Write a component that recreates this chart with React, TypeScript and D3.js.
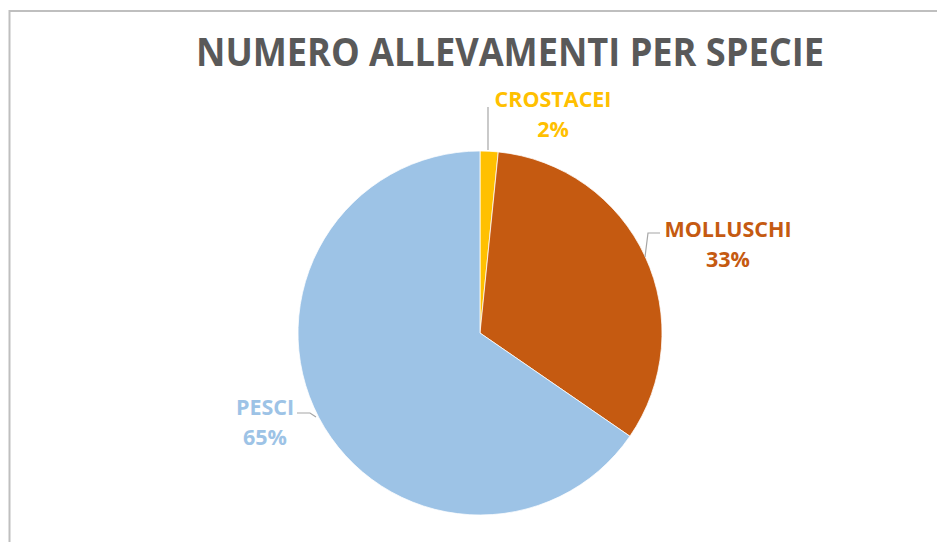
import React from 'react';
import * as d3 from 'd3';

// values (share of farms per species)
const categories = ['CROSTACEI', 'MOLLUSCHI', 'PESCI'];
const values = [1.6, 33.0, 65.4];
const percentLabels = ['2%', '33%', '65%'];
const colors = ['#FFC000', '#C55A11', '#9DC3E6'];

const W = 937;
const H = 542;
const cx = 480;
const cy = 333;
const radius = 182;

// label placement, relative to pie center (layout only)
const labelLayout = [
  { dx: 73, dy: -226, leader: [[8, -226], [8, -183]] },
  { dx: 248, dy: -96, leader: [[180, -100], [168, -100], [165, -76]] },
  { dx: -215, dy: 82, leader: [[-183, 80], [-170, 80], [-164, 84]] },
];

const font = '"Open Sans", "Liberation Sans", sans-serif';

export default function App() {
  const pie = d3
    .pie<number>()
    .sort(null)
    .value((d) => d)
    .startAngle(0)
    .endAngle(2 * Math.PI);
  const arcs = pie(values);
  const arc = d3.arc<d3.PieArcDatum<number>>().innerRadius(0).outerRadius(radius);

  return (
    <svg
      width={W}
      height={H}
      style={{ position: 'absolute', left: 0, top: 0, display: 'block', background: '#fff' }}
    >
      <rect x={9.5} y={11} width={W + 10} height={H + 10} fill="#fff" stroke="#BFBFBF" strokeWidth={2} />

      <text
        x={510}
        y={66}
        textAnchor="middle"
        fontFamily={font}
        fontWeight={700}
        fontSize={40}
        fill="#595959"
        textLength={628}
        lengthAdjust="spacingAndGlyphs"
      >
        NUMERO ALLEVAMENTI PER SPECIE
      </text>

      <g transform={`translate(${cx},${cy})`}>
        {arcs.map((a, i) => (
          <path key={categories[i]} d={arc(a) || ''} fill={colors[i]} stroke="#fff" strokeWidth={0.75} />
        ))}
        {labelLayout.map((l, i) => (
          <g key={categories[i]}>
            <polyline
              points={l.leader.map((p) => p.join(',')).join(' ')}
              fill="none"
              stroke="#A6A6A6"
              strokeWidth={1.2}
            />
            <text
              x={l.dx}
              y={l.dy}
              textAnchor="middle"
              fontFamily={font}
              fontWeight={700}
              fontSize={21.5}
              fill={colors[i]}
            >
              {categories[i]}
            </text>
            <text
              x={l.dx}
              y={l.dy + 30}
              textAnchor="middle"
              fontFamily={font}
              fontWeight={700}
              fontSize={21.5}
              fill={colors[i]}
            >
              {percentLabels[i]}
            </text>
          </g>
        ))}
      </g>
    </svg>
  );
}
